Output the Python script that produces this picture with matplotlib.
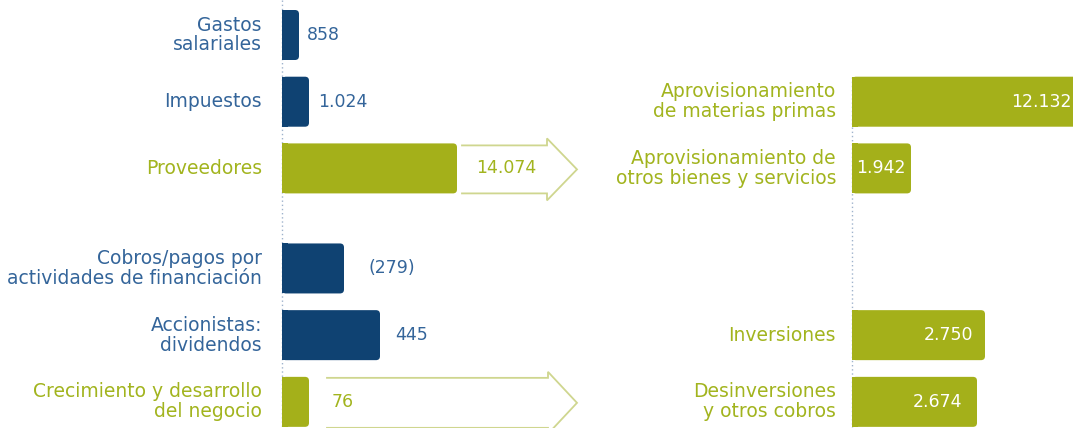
import matplotlib
matplotlib.use("Agg")
import matplotlib.pyplot as plt
from matplotlib.patches import FancyBboxPatch, Rectangle

# Datos (millones de euros)
categorias_izq = [
    "Gastos\nsalariales",
    "Impuestos",
    "Proveedores",
    "Cobros/pagos por\nactividades de financiación",
    "Accionistas:\ndividendos",
    "Crecimiento y desarrollo\ndel negocio",
]
valores_izq = ["858", "1.024", "14.074", "(279)", "445", "76"]
largo_izq = [17, 27, 175, 62, 98, 27]  # longitud de barra
filas_izq = [0, 1, 2, 3.5, 4.5, 5.5]
tipo_izq = ["azul", "azul", "verde", "azul", "azul", "verde"]

categorias_der = [
    "Aprovisionamiento\nde materias primas",
    "Aprovisionamiento de\notros bienes y servicios",
    "Inversiones",
    "Desinversiones\ny otros cobros",
]
valores_der = ["12.132", "1.942", "2.750", "2.674"]
largo_der = [240, 59, 133, 125]
filas_der = [1, 2, 4.5, 5.5]

AZUL = "#0f4272"
VERDE = "#a4b01a"
TXT_AZUL = "#34659a"
TXT_VERDE = "#a2b41e"
FLECHA = "#cfd68f"
PUNTOS = "#9fb3cc"

Y0, PASO, ALTO = 35, 66.7, 50
X_IZQ, X_DER = 282, 852

FUENTE = ["DejaVu Sans"]


def y_fila(f):
    return Y0 + f * PASO


def barra_redondeada(ax, b, color):
    x, y = b.get_x(), b.get_y()
    w, h = b.get_width(), b.get_height()
    b.remove()
    ax.add_patch(FancyBboxPatch((x, y), w, h,
                                boxstyle="round,pad=0,rounding_size=4",
                                fc=color, ec="none", zorder=3))
    ax.add_patch(Rectangle((x, y), min(w, 6), h, fc=color, ec="none", zorder=3))


def flecha(ax, x_ini, y_sup, y_inf, x_cab, x_punta, extra):
    ym = (y_sup + y_inf) / 2
    xs = [x_ini, x_cab, x_cab, x_punta, x_cab, x_cab, x_ini]
    ys = [y_sup, y_sup, y_sup - extra, ym, y_inf + extra, y_inf, y_inf]
    ax.plot(xs, ys, color=FLECHA, lw=1.3, solid_joinstyle="miter", zorder=2)


fig = plt.figure(figsize=(10.73, 4.28), dpi=100)
ax = fig.add_axes([0, 0, 1, 1])
ax.set_xlim(0, 1073)
ax.set_ylim(428, 0)
ax.axis("off")

# líneas de base punteadas
ax.plot([X_IZQ, X_IZQ], [0, 428], color=PUNTOS, lw=1, ls=(0, (1, 2)), zorder=1)
ax.plot([X_DER, X_DER], [y_fila(1) - ALTO / 2, 428], color=PUNTOS, lw=1,
        ls=(0, (1, 2)), zorder=1)

# flechas
flecha(ax, 462, y_fila(2) - 23, y_fila(2) + 25, 547, 577, 7)
flecha(ax, 327, y_fila(5.5) - 24, y_fila(5.5) + 26, 548, 577, 6)

# barras izquierda
ys_izq = [y_fila(f) for f in filas_izq]
barras = ax.barh(ys_izq, largo_izq, height=ALTO, left=X_IZQ)
for b, t in zip(barras, tipo_izq):
    barra_redondeada(ax, b, AZUL if t == "azul" else VERDE)

desp_izq = [8, 9, 19, 25, 15, 23]
for y, cat, val, l, d, t in zip(ys_izq, categorias_izq, valores_izq,
                                largo_izq, desp_izq, tipo_izq):
    c = TXT_AZUL if t == "azul" else TXT_VERDE
    ax.text(262, y, cat, ha="right", va="center", fontsize=13.5, color=c,
            linespacing=1.05, family=FUENTE)
    ax.text(X_IZQ + l + d, y, val, ha="left", va="center", fontsize=12.5,
            color=c, family=FUENTE)

# barras derecha
ys_der = [y_fila(f) for f in filas_der]
barras = ax.barh(ys_der, largo_der, height=ALTO, left=X_DER)
for b in barras:
    barra_redondeada(ax, b, VERDE)

desp_der = [20, 5, 12, 15]
for y, cat, val, l, d in zip(ys_der, categorias_der, valores_der, largo_der, desp_der):
    ax.text(836, y, cat, ha="right", va="center", fontsize=13.5, color=TXT_VERDE,
            linespacing=1.05, family=FUENTE)
    ax.text(X_DER + l - d, y, val, ha="right", va="center", fontsize=12.5,
            color="white", family=FUENTE, zorder=4)

fig.savefig("out.png", dpi=100)
plt.close(fig)
